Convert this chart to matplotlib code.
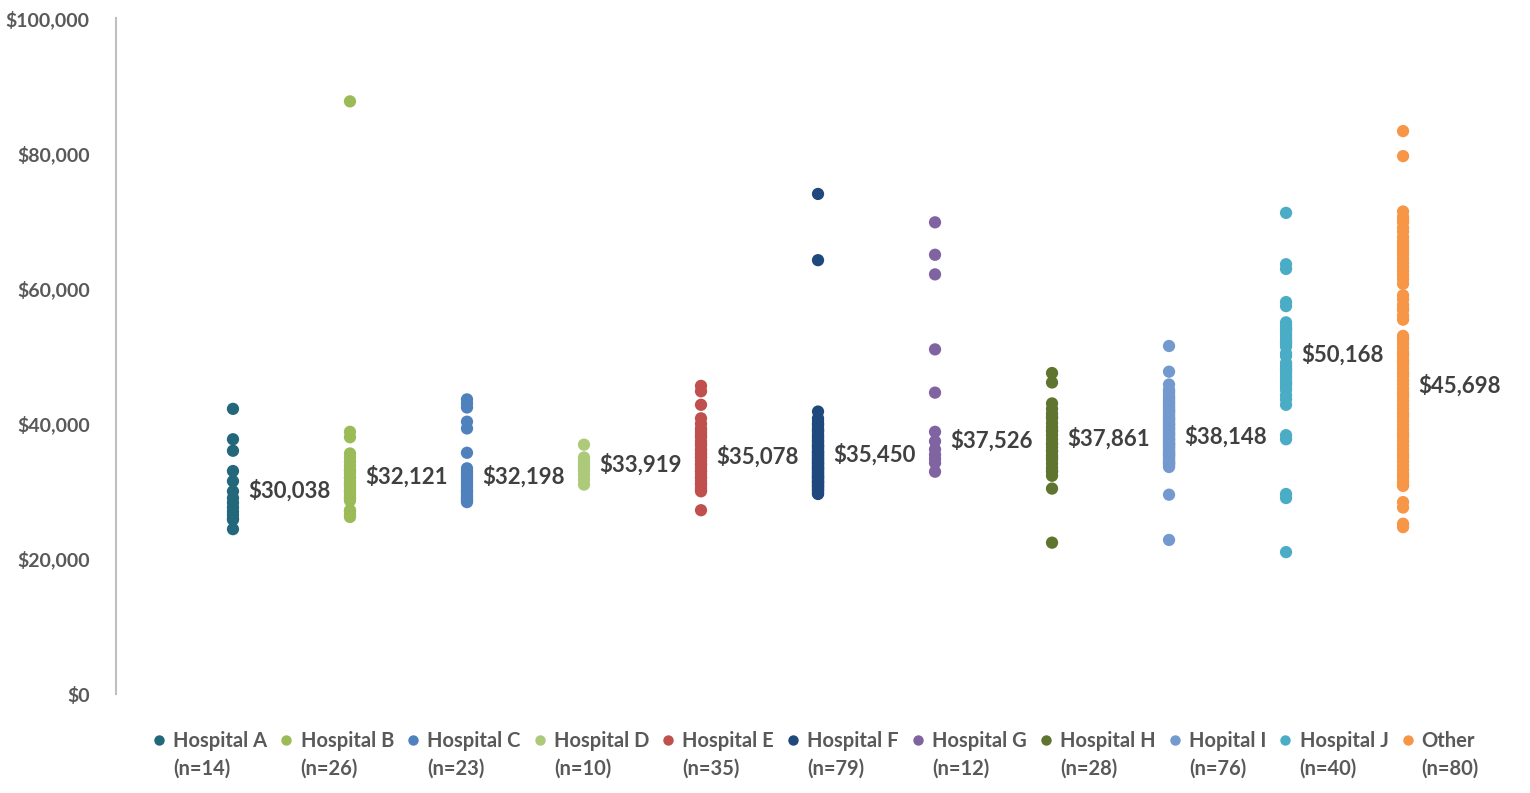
import matplotlib
matplotlib.use("Agg")
import matplotlib.pyplot as plt
from matplotlib.lines import Line2D
from matplotlib.ticker import FuncFormatter

categories = ["Hospital A", "Hospital B", "Hospital C", "Hospital D", "Hospital E",
              "Hospital F", "Hospital G", "Hospital H", "Hopital I", "Hospital J", "Other"]
counts = [14, 26, 23, 10, 35, 79, 12, 28, 76, 40, 80]
label_values = [30038, 32121, 32198, 33919, 35078, 35450, 37526, 37861, 38148, 50168, 45698]
colors = ["#22677A", "#9BBB59", "#4F81BD", "#ADC97A", "#C0504D", "#1F497D",
          "#8064A2", "#5F742F", "#7399CF", "#4BACC6", "#F79646"]

# values in thousands of dollars
hosp_a = [42.2, 37.7, 36.0, 33.0, 31.5, 30.0, 29.0, 28.3, 27.6, 27.0, 26.5, 26.0, 25.8, 24.4]
hosp_b = [87.7, 38.8, 38.0, 35.6, 35.0, 34.4, 33.8, 33.2, 32.6, 32.0, 31.5, 31.0, 30.5,
          30.0, 29.5, 29.0, 28.6, 27.2, 26.5, 26.2, 32.0, 31.0, 30.0, 29.0, 33.0, 27.0]
hosp_c = [43.6, 43.0, 42.4, 40.3, 39.3, 35.7, 33.4, 33.0, 32.6, 32.2, 31.8, 31.4, 31.0,
          30.6, 30.2, 29.8, 29.5, 29.2, 29.0, 28.8, 28.6, 28.4, 30.0]
hosp_d = [36.9, 35.0, 34.6, 34.2, 33.8, 33.4, 33.0, 32.4, 31.7, 31.0]
hosp_e = [45.6, 44.8, 42.8, 40.8, 40.0, 39.3, 38.6, 38.0, 37.4, 36.8, 36.2, 35.6, 35.0,
          34.5, 34.0, 33.5, 33.0, 32.5, 32.0, 31.5, 31.0, 30.5, 30.0, 27.2, 39.0, 37.0,
          36.0, 35.0, 34.0, 33.0, 32.0, 31.2, 30.2, 35.5, 38.2]
hosp_f = [74.0, 64.2, 41.8, 40.8, 40.4, 40.0, 39.6, 39.2, 38.8, 38.4, 38.0, 37.6, 37.2,
          36.8, 36.4, 36.0, 35.6, 35.2, 34.8, 34.4, 34.0, 33.6, 33.2, 32.8, 32.4, 32.0,
          31.6, 31.2, 30.8, 30.4, 30.0, 29.6, 39.9, 39.1, 38.3, 37.5, 36.7, 35.9, 35.1,
          34.3, 33.5, 32.7, 31.9, 31.1, 30.3, 29.7, 38.9, 37.9, 36.9, 35.8, 34.9, 33.9,
          32.9, 31.8, 30.9, 30.1, 37.3, 36.3, 35.3, 34.2, 33.1, 32.1, 31.3, 36.6, 35.4,
          34.6, 33.7, 32.5, 31.5, 30.6, 35.7, 34.7, 33.4, 32.3, 31.4, 34.1, 33.3, 32.2, 30.7]
hosp_g = [69.8, 65.0, 62.1, 51.0, 44.6, 38.8, 37.4, 36.2, 35.4, 34.8, 34.2, 32.9]
hosp_h = [47.5, 46.1, 43.0, 42.2, 41.5, 40.8, 40.1, 39.5, 38.9, 38.3, 37.7, 37.1, 36.5,
          35.9, 35.3, 34.7, 34.1, 33.5, 32.9, 32.3, 30.4, 22.4, 41.0, 39.0, 37.0, 35.0,
          33.0, 36.0]
hosp_i = [51.5, 47.7, 45.8, 29.5, 22.8, 45.0, 44.6, 44.2, 43.8, 43.4, 43.0, 42.6, 42.2,
          41.8, 41.4, 41.0, 40.6, 40.2, 39.8, 39.4, 39.0, 38.6, 38.2, 37.8, 37.4, 37.0,
          36.6, 36.2, 35.8, 35.4, 35.0, 34.6, 34.2, 33.8, 44.8, 44.0, 43.2, 42.4, 41.6,
          40.8, 40.0, 39.2, 38.4, 37.6, 36.8, 36.0, 35.2, 34.4, 33.6, 43.6, 42.0, 40.4,
          38.8, 37.2, 35.6, 34.0, 42.9, 41.2, 39.6, 38.0, 36.4, 34.8, 41.9, 39.3, 37.1,
          35.3, 40.7, 38.5, 36.5, 34.3, 39.9, 37.7, 35.9, 34.1, 36.9, 35.5]
hosp_j = [71.2, 63.6, 62.9, 58.0, 57.4, 55.0, 54.6, 54.2, 53.8, 53.4, 53.0, 52.6, 52.2,
          51.8, 51.4, 50.4, 50.0, 49.0, 48.6, 48.2, 47.8, 47.4, 47.0, 46.6, 46.2, 45.8,
          45.4, 45.0, 44.2, 43.6, 42.8, 38.3, 37.7, 29.6, 29.0, 21.0, 54.0, 52.0, 48.0, 46.0]
other = [83.3, 79.6, 71.4, 70.6, 69.8, 69.0, 67.6, 67.0, 66.0, 65.0, 64.4, 63.8, 63.2,
         62.6, 62.0, 61.4, 60.7, 58.4, 57.6, 56.8, 56.0, 55.4, 53.0, 52.4, 51.8, 51.2,
         50.6, 50.0, 49.4, 48.8, 48.2, 47.6, 47.0, 46.4, 45.8, 45.2, 44.6, 44.0, 43.4,
         42.8, 42.2, 41.6, 41.0, 40.4, 39.8, 39.2, 38.6, 38.0, 37.4, 36.8, 36.2, 35.6,
         35.0, 34.4, 33.8, 33.2, 32.6, 32.0, 31.4, 30.8, 28.4, 27.6, 25.2, 24.7, 70.2,
         68.4, 66.5, 65.5, 59.0, 57.0, 52.7, 50.3, 47.3, 44.3, 41.3, 38.3, 35.3, 32.3,
         49.1, 31.0]

series = [hosp_a, hosp_b, hosp_c, hosp_d, hosp_e, hosp_f, hosp_g, hosp_h, hosp_i, hosp_j, other]

FONT = ["Lato", "DejaVu Sans"]
plt.rcParams["font.family"] = FONT

fig = plt.figure(figsize=(15.3, 7.93), dpi=100)
ax = fig.add_axes([0.0758, 0.1248, 0.9177, 0.8522])

for i, (vals, col, lv) in enumerate(zip(series, colors, label_values)):
    xpos = i + 1
    ax.scatter([xpos] * len(vals), [v * 1000 for v in vals], s=78, color=col,
               edgecolors="none", zorder=3)
    ax.annotate(f"${lv:,}", xy=(xpos, lv), xytext=(11, 0), textcoords="offset points",
                ha="left", va="center", fontsize=16, fontweight="bold", color="#404040")

ax.set_xlim(0, 12)
ax.set_ylim(0, 100000)
ax.set_yticks([0, 20000, 40000, 60000, 80000, 100000])
ax.yaxis.set_major_formatter(FuncFormatter(lambda v, p: f"${v:,.0f}"))
ax.set_xticks([])
for s in ["top", "right", "bottom"]:
    ax.spines[s].set_visible(False)
ax.spines["left"].set_color("#BFBFBF")
ax.spines["left"].set_linewidth(1.5)
ax.tick_params(axis="y", length=0, pad=19, labelsize=14, labelcolor="#595959")
for t in ax.get_yticklabels():
    t.set_fontweight("bold")

handles = []
labels = []
for cat, n, col in zip(categories, counts, colors):
    handles.append(Line2D([], [], marker="o", linestyle="none", markersize=7.5,
                          markerfacecolor=col, markeredgecolor="none"))
    labels.append(cat)
    handles.append(Line2D([], [], marker="o", linestyle="none", markersize=7.5,
                          markerfacecolor="none", markeredgecolor="none"))
    labels.append(f"(n={n})")

leg = fig.legend(handles, labels, ncol=11, loc="lower center",
                 bbox_to_anchor=(0.533, 0.0), frameon=False,
                 prop={"size": 14.5, "weight": "bold", "family": FONT},
                 handlelength=0.7, handletextpad=0.35, columnspacing=0.6,
                 labelspacing=0.38, borderaxespad=0.3)
for t in leg.get_texts():
    t.set_color("#595959")

fig.savefig("out.png", dpi=100)
